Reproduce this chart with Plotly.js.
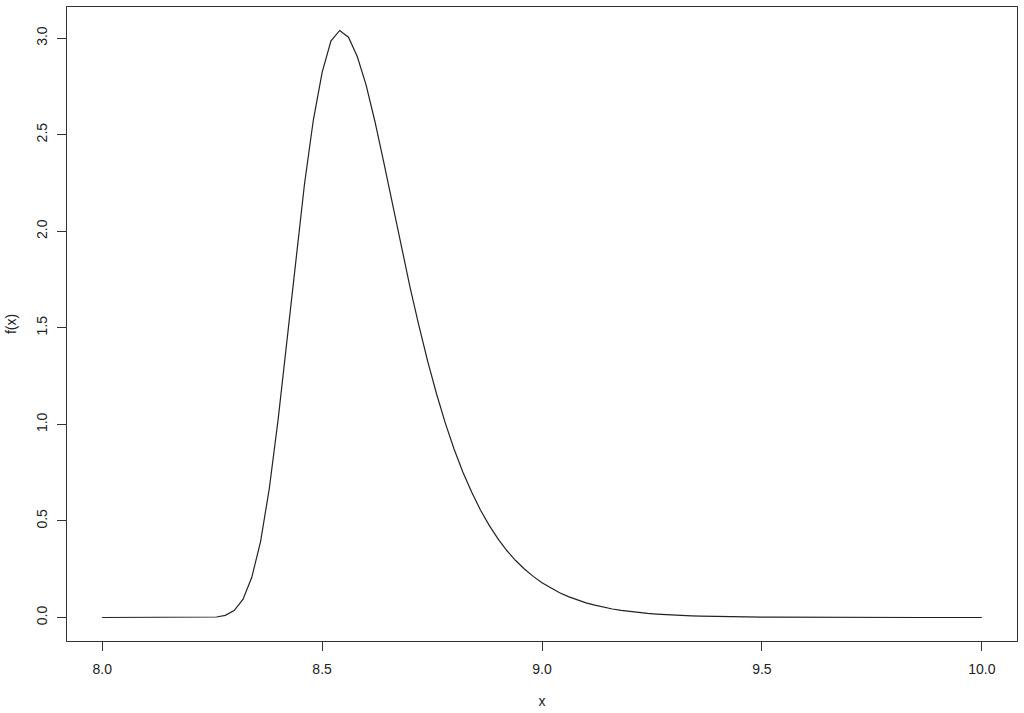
<!DOCTYPE html>
<html>
<head>
<meta charset="utf-8">
<script src="https://cdn.plot.ly/plotly-3.0.1.min.js"></script>
<style>
  html, body { margin: 0; padding: 0; background: #fff; }
  #chart { width: 1024px; height: 713px; }
</style>
</head>
<body>
<div id="chart"></div>
<script>
/* density curve, x on a 0.02 grid from 8 to 10 */
const xs = [
    8.00, 8.02, 8.04, 8.06, 8.08, 8.10, 8.12, 8.14, 8.16, 8.18,
    8.20, 8.22, 8.24, 8.26, 8.28, 8.30, 8.32, 8.34, 8.36, 8.38,
    8.40, 8.42, 8.44, 8.46, 8.48, 8.50, 8.52, 8.54, 8.56, 8.58,
    8.60, 8.62, 8.64, 8.66, 8.68, 8.70, 8.72, 8.74, 8.76, 8.78,
    8.80, 8.82, 8.84, 8.86, 8.88, 8.90, 8.92, 8.94, 8.96, 8.98,
    9.00, 9.02, 9.04, 9.06, 9.08, 9.10, 9.12, 9.14, 9.16, 9.18,
    9.20, 9.22, 9.24, 9.26, 9.28, 9.30, 9.32, 9.34, 9.36, 9.38,
    9.40, 9.42, 9.44, 9.46, 9.48, 9.50, 9.52, 9.54, 9.56, 9.58,
    9.60, 9.62, 9.64, 9.66, 9.68, 9.70, 9.72, 9.74, 9.76, 9.78,
    9.80, 9.82, 9.84, 9.86, 9.88, 9.90, 9.92, 9.94, 9.96, 9.98,
    10.00
];

const fx = [
    0, 0, 0, 0, 0, 0, 0, 0, 0, 0,
    0, 0.0001, 0.0005, 0.0026, 0.011, 0.036, 0.094, 0.207, 0.392, 0.668,
    1.025, 1.430, 1.850, 2.245, 2.575, 2.822, 2.985, 3.040, 3.005, 2.905,
    2.758, 2.570, 2.360, 2.140, 1.921, 1.710, 1.513, 1.328, 1.160, 1.008,
    0.873, 0.754, 0.650, 0.557, 0.477, 0.407, 0.347, 0.295, 0.251, 0.213,
    0.180, 0.152, 0.128, 0.108, 0.091, 0.076, 0.064, 0.053, 0.044, 0.037,
    0.031, 0.026, 0.021, 0.018, 0.015, 0.0125, 0.0104, 0.0087, 0.0072, 0.0060,
    0.0050, 0.0042, 0.0035, 0.0029, 0.0024, 0.0020, 0.0017, 0.0014, 0.0012, 0.0010,
    0.0008, 0.0007, 0.0006, 0.0005, 0.0004, 0.0003, 0.0003, 0.0002, 0.0002, 0.0002,
    0.0001, 0.0001, 0.0001, 0.0001, 0.0001, 0.0001, 0.0001, 0.0001, 0.0001, 0.0001,
    0.0001
];

const xTicks = [8.0, 8.5, 9.0, 9.5, 10.0];
const yTicks = [0.0, 0.5, 1.0, 1.5, 2.0, 2.5, 3.0];

const FONT = { family: 'Liberation Sans, Arial, sans-serif', size: 14, color: '#222' };

const AXIS = {
    showgrid: false,
    zeroline: false,
    showline: true,
    mirror: true,
    linecolor: '#333',
    linewidth: 1,
    ticks: 'outside',
    ticklen: 9,
    tickcolor: '#333',
    tickwidth: 1,
    tickfont: FONT,
    tickformat: '.1f'
};

Plotly.newPlot('chart', [{
    x: xs,
    y: fx,
    type: 'scatter',
    mode: 'lines',
    line: { color: '#222', width: 1.2 },
    hoverinfo: 'skip'
}], {
    width: 1024,
    height: 713,
    paper_bgcolor: '#fff',
    plot_bgcolor: '#fff',
    font: FONT,
    showlegend: false,
    margin: { l: 67, r: 7, t: 7, b: 72 },
    xaxis: {
        ...AXIS,
        range: [7.92, 10.08],
        tickvals: xTicks,
        ticklabelstandoff: 6,
        title: { text: 'x', font: FONT, standoff: 20 }
    },
    yaxis: {
        ...AXIS,
        range: [-0.1216, 3.1616],
        tickvals: yTicks,
        tickangle: -90,
        ticklabelstandoff: 4,
        title: { text: 'f(x)', font: FONT, standoff: 14 }
    }
}, { displayModeBar: false, staticPlot: true });
</script>
</body>
</html>
